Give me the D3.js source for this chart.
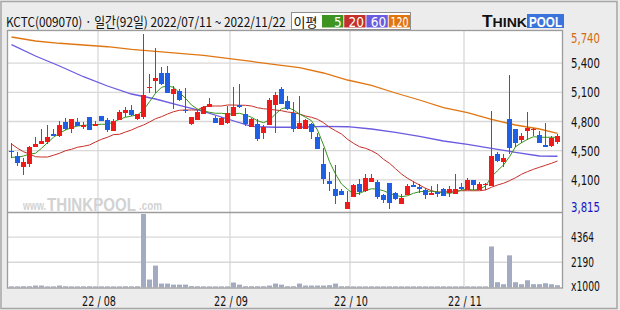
<!DOCTYPE html>
<html>
<head>
<meta charset="utf-8">
<script src="https://cdn.jsdelivr.net/npm/d3@7"></script>
<style>
html, body { margin: 0; padding: 0; background: #ececec; }
svg { display: block; }
.num { font-family: "Liberation Sans Narrow", "DejaVu Sans Condensed", "Liberation Sans", sans-serif; }
</style>
</head>
<body>
<svg id="chart" width="620" height="310"></svg>
<script>
// trading days 2022/07/11 ~ 2022/11/22 (92)
const dates = [
  "22/07/11","22/07/12","22/07/13","22/07/14","22/07/15","22/07/18","22/07/19","22/07/20","22/07/21","22/07/22",
  "22/07/25","22/07/26","22/07/27","22/07/28","22/07/29",
  "22/08/01","22/08/02","22/08/03","22/08/04","22/08/05","22/08/08","22/08/09","22/08/10","22/08/11","22/08/12",
  "22/08/16","22/08/17","22/08/18","22/08/19","22/08/22","22/08/23","22/08/24","22/08/25","22/08/26","22/08/29",
  "22/08/30","22/08/31",
  "22/09/01","22/09/02","22/09/05","22/09/06","22/09/07","22/09/08","22/09/13","22/09/14","22/09/15","22/09/16",
  "22/09/19","22/09/20","22/09/21","22/09/22","22/09/23","22/09/26","22/09/27","22/09/28","22/09/29","22/09/30",
  "22/10/04","22/10/05","22/10/06","22/10/07","22/10/11","22/10/12","22/10/13","22/10/14","22/10/17","22/10/18",
  "22/10/19","22/10/20","22/10/21","22/10/24","22/10/25","22/10/26","22/10/27","22/10/28","22/10/31",
  "22/11/01","22/11/02","22/11/03","22/11/04","22/11/07","22/11/08","22/11/09","22/11/10","22/11/11","22/11/14",
  "22/11/15","22/11/16","22/11/17","22/11/18","22/11/21","22/11/22"
];

const opens = [
  4455,4400,4275,4310,4495,4535,4545,4640,4620,4770, 4695,4770,4715,4825,4730,4835,4795,4675,4795,4875,
  4905,4800,4830,5140,5225,5310,5310,5075,5115,4905, 4750,4800,4855,4940,4815,4745,4755,4840,4955,4855,
  4720,4750,4645,4740,4960,5135,5005,4870,4695,4700, 4750,4610,4305,4125,4035,4010,3815,3950,4090,4010,
  4110,4110,3965,4100,3990,3875,3970,4080,4060,4025, 3975,4000,4040,3990,3975,4060,4025,4135,4025,4075,
  4075,4420,4335,4800,4695,4575,4675,4675,4625,4520, 4510,4550
];
const highs = [
  4540,4445,4375,4510,4605,4690,4735,4690,4785,4820, 4810,4815,4770,4830,4780,4840,4815,4805,4905,4935,
  4955,4865,5740,5305,5585,5375,5390,5170,5130,5145, 4825,4905,4950,5035,4840,4825,4950,5155,5190,4925,
  4815,4800,4740,5035,5100,5155,5060,4995,5060,4800, 4760,4655,4485,4220,4300,4030,4015,4090,4145,4200,
  4200,4135,3980,4105,4000,3980,4090,4125,4090,4045, 4070,4090,4045,4070,4200,4105,4155,4135,4115,4105,
  4895,4440,4420,5290,4695,4650,4880,4705,4675,4760, 4615,4640
];
const lows = [
  4375,4290,4190,4275,4495,4535,4535,4620,4610,4685, 4650,4725,4700,4685,4730,4785,4665,4675,4795,4825,
  4840,4795,4800,5090,5095,5180,5095,4915,5005,4870, 4740,4800,4855,4935,4760,4740,4755,4840,4930,4730,
  4715,4565,4590,4740,4650,4975,4905,4665,4695,4700, 4590,4480,4095,4015,3865,3970,3815,3950,3970,4005,
  4110,3920,3880,3815,3915,3875,3970,4055,3990,3920, 3975,3950,3960,3945,3975,4025,4025,4025,4025,4025,
  4075,4330,4275,4420,4500,4540,4575,4620,4540,4500, 4500,4530
];
const closes = [
  4440,4320,4330,4495,4530,4565,4605,4620,4740,4695, 4800,4730,4740,4685,4750,4785,4690,4780,4885,4905,
  4850,4860,5070,5155,5255,5190,5095,5130,5015,4895, 4825,4885,4935,4970,4760,4820,4870,4935,4930,4740,
  4805,4590,4715,5015,5070,4975,4915,4695,4760,4795, 4660,4480,4135,4095,3960,3970,3890,4080,4005,4155,
  4155,3950,3905,3880,3920,3940,4070,4055,4040,3965, 3995,3980,3965,4035,4035,4035,4135,4075,4090,4090,
  4400,4345,4375,4485,4540,4620,4705,4690,4540,4500, 4595,4620
];
// volume, x1000 shares
const volumes = [
  100,100,110,110,170,170,100,100,170,110, 100,100,100,110,100,100,100,100,100,110,
  100,110,6380,690,1900,340,340,250,250,250, 120,110,100,100,100,100,100,430,250,110,
  110,110,110,170,340,250,110,110,340,170, 170,170,170,200,340,110,110,100,100,100,
  100,100,100,100,100,100,100,100,100,100, 100,100,100,100,100,100,100,100,100,100,
  3560,460,285,2790,460,285,630,285,285,370, 285,200
];

const ma5 = [
  4384,4384,4398,4420,4428,4483,4544,4604,4648,4684, 4709,4728,4736,4739,4743,4747,4747,4772,4802,4824,
  4838,4849,4904,4995,5088,5154,5168,5154,5094,5033, 4959,4915,4893,4879,4868,4868,4860,4860,4868,4849,
  4824,4786,4764,4794,4860,4918,4934,4904,4860,4824, 4786,4684,4519,4335,4200,4090,4032,3980,3988,4016,
  4038,4032,4016,3988,3966,3950,3961,3988,4005,4010, 4010,4002,3994,3988,3999,4024,4032,4024,4032,4068,
  4170,4236,4299,4390,4500,4544,4582,4610,4604,4604, 4604,4604
];
const ma20 = [
  4530,4483,4445,4420,4390,4387,4387,4406,4428,4456, 4472,4494,4505,4519,4552,4582,4604,4633,4637,4662,
  4684,4714,4739,4772,4808,4830,4860,4885,4901,4904, 4904,4904,4940,4948,4948,4948,4959,4959,4956,4956,
  4948,4929,4918,4912,4904,4896,4882,4874,4860,4838, 4824,4802,4764,4714,4676,4640,4582,4538,4500,4483,
  4456,4420,4362,4318,4258,4200,4153,4115,4079,4043, 4016,4002,4002,4008,4013,4016,4016,4016,4016,4024,
  4054,4079,4098,4126,4159,4197,4226,4252,4274,4296, 4318,4343
];
// long averages read every 4th day
const maIdx = [0,4,8,12,16,20,24,28,32,36,40,44,48,52,56,60,64,68,72,76,80,84,88,91];
const ma60 = [5624,5498,5388,5270,5168,5080,5025,4954,4888,4805,4723,4714,4714,4723,4720,4695,4657,4613,4563,4527,4483,4439,4398,4395];
const ma120 = [5707,5663,5638,5619,5600,5570,5548,5526,5506,5472,5438,5403,5370,5311,5234,5174,5091,5014,4931,4874,4800,4739,4695,4648];

const priceMin = 3815, priceMax = 5740;
const priceLabels = ["5,740","5,400","5,100","4,800","4,500","4,100","3,815"];
const volMax = 6550;
const volTicks = [4364, 2190, 0];
const volLabels = ["4364","2190","x1000"];
const maNames = ["5","20","60","120"];
const maColors = ["#3d9420","#c4302b","#6a5be0","#e07612"];

const upColor = "#ef1b1b", downColor = "#1f5fe3", volColor = "#a3abc2", gridColor = "#d8d8d8";

const plotLeft = 8, plotRight = 562, plotTop = 31, priceBottom = 212, volBottom = 288;

const svg = d3.select("#chart");

// squeeze a text horizontally into a width, keeping its glyph height
function fitText(sel, width, size) {
    sel.style("font-size", size + "px");
    const len = sel.node().getComputedTextLength();
    if (len > width) {
        const tx = +sel.attr("x"), ty = +sel.attr("y");
        sel.attr("x", 0).attr("y", 0)
            .attr("transform", `translate(${tx},${ty}) scale(${width / len},1)`);
    }
    return sel;
}

// outer frame
svg.append("rect")
    .attr("x", 1).attr("y", 1.5).attr("width", 616).attr("height", 307)
    .attr("fill", "#ececec").attr("stroke", "#a6a6a6").attr("stroke-width", 1.5);

// plot background
svg.append("rect")
    .attr("x", plotLeft).attr("y", plotTop).attr("width", plotRight - plotLeft).attr("height", volBottom - plotTop)
    .attr("fill", "#fff");

// Scales
const x = d3.scaleBand()
    .domain(dates)
    .range([plotLeft, plotLeft + dates.length * 6])
    .padding(0);

const y = d3.scaleLinear().domain([priceMin, priceMax]).range([209, 34]);
const yv = d3.scaleLinear().domain([0, volMax]).range([287.5, 212]);

// watermark
const wm = svg.append("g").attr("fill", "#d2d2d2").attr("font-family", "Liberation Sans, sans-serif").attr("font-weight", "bold");
fitText(wm.append("text").attr("x", 23).attr("y", 210).text("www."), 23, 13);
fitText(wm.append("text").attr("x", 47).attr("y", 210.5).text("THINKPOOL"), 89, 19);
fitText(wm.append("text").attr("x", 139).attr("y", 210).text(".com"), 23, 13);

// horizontal grid, price panel: six equal divisions
const priceTicks = d3.range(priceLabels.length).map(k => priceMax - k * (priceMax - priceMin) / (priceLabels.length - 1));
svg.append("g")
    .selectAll("line")
    .data(priceTicks.slice(1, -1))
    .join("line")
    .attr("x1", plotLeft).attr("x2", plotRight)
    .attr("y1", d => y(d)).attr("y2", d => y(d))
    .attr("stroke", gridColor).attr("stroke-width", 1.3);

// volume grid
svg.append("g")
    .selectAll("line")
    .data(volTicks.filter(v => v > 0))
    .join("line")
    .attr("x1", plotLeft).attr("x2", plotRight)
    .attr("y1", d => yv(d)).attr("y2", d => yv(d))
    .attr("stroke", gridColor).attr("stroke-width", 1.3);

// month starts
const monthStarts = dates.filter((d, i) => i > 0 && d.slice(3, 5) !== dates[i - 1].slice(3, 5));
svg.append("g")
    .selectAll("line")
    .data(monthStarts)
    .join("line")
    .attr("x1", d => x(d)).attr("x2", d => x(d))
    .attr("y1", plotTop).attr("y2", volBottom)
    .attr("stroke", gridColor).attr("stroke-width", 1.3);

// volume bars
svg.append("g")
    .selectAll("rect")
    .data(dates)
    .join("rect")
    .attr("x", d => x(d) + 1)
    .attr("width", 5)
    .attr("y", (d, i) => Math.min(yv(volumes[i]), 286.5))
    .attr("height", (d, i) => Math.max(1, 287.5 - yv(volumes[i])))
    .attr("fill", volColor);

// moving averages
const line = d3.line().x(d => x(d[0]) + 3.5).y(d => y(d[1]));
const maSeries = [
    ma5.map((v, i) => [dates[i], v]),
    ma20.map((v, i) => [dates[i], v]),
    ma60.map((v, k) => [dates[maIdx[k]], v]),
    ma120.map((v, k) => [dates[maIdx[k]], v])
];
const maWidths = [1, 1, 1.3, 1.3];
svg.append("g")
    .selectAll("path")
    .data(d3.range(maSeries.length).reverse())
    .join("path")
    .attr("d", k => line(maSeries[k]))
    .attr("fill", "none")
    .attr("stroke", k => maColors[k])
    .attr("stroke-width", k => maWidths[k]);

// candles
const candles = svg.append("g")
    .selectAll("g")
    .data(dates)
    .join("g")
    .attr("fill", (d, i) => closes[i] >= opens[i] ? upColor : downColor)
    .attr("stroke", (d, i) => closes[i] >= opens[i] ? upColor : downColor);

candles.append("line")
    .attr("x1", d => x(d) + 3.5).attr("x2", d => x(d) + 3.5)
    .attr("y1", (d, i) => Math.round(y(highs[i])))
    .attr("y2", (d, i) => Math.round(y(lows[i])))
    .attr("stroke-width", 1);

candles.append("rect")
    .attr("x", d => x(d) + 1)
    .attr("width", 5)
    .attr("y", (d, i) => Math.round(y(Math.max(opens[i], closes[i]))))
    .attr("height", (d, i) => Math.max(1, Math.round(Math.abs(y(opens[i]) - y(closes[i])))))
    .attr("stroke", "none");

// frame lines
svg.append("rect")
    .attr("x", plotLeft - 0.5).attr("y", plotTop - 0.5).attr("width", plotRight - plotLeft + 1).attr("height", volBottom - plotTop + 0.5)
    .attr("fill", "none").attr("stroke", "#9c9c9c").attr("stroke-width", 1.3);
svg.append("line")
    .attr("x1", plotLeft).attr("x2", plotRight).attr("y1", priceBottom + 0.5).attr("y2", priceBottom + 0.5)
    .attr("stroke", "#9c9c9c").attr("stroke-width", 1.3);

// price labels
svg.append("g")
    .selectAll("text")
    .data(priceTicks)
    .join("text")
    .attr("class", "num")
    .attr("x", 571)
    .attr("y", d => Math.min(Math.max(y(d), 37.5), 206.5) + 5)
    .attr("fill", (d, i) => i === 0 ? "#d46a10" : i === priceTicks.length - 1 ? "#1515c8" : "#111")
    .text((d, i) => priceLabels[i])
    .each(function () { fitText(d3.select(this), 29, 14); });

// volume labels
svg.append("g")
    .selectAll("text")
    .data(volTicks)
    .join("text")
    .attr("class", "num")
    .attr("x", 571)
    .attr("y", d => Math.min(yv(d), 285.5) + 5)
    .attr("fill", "#111")
    .text((d, i) => volLabels[i])
    .each(function (d, i) { fitText(d3.select(this), volLabels[i].length === 4 ? 23 : 29, 14); });

// month labels
svg.append("g")
    .selectAll("text")
    .data(monthStarts)
    .join("text")
    .attr("class", "num")
    .attr("x", d => x(d) + 1)
    .attr("y", 306)
    .attr("text-anchor", "middle")
    .attr("fill", "#111")
    .text(d => d.slice(0, 2) + " / " + d.slice(3, 5))
    .each(function () { fitText(d3.select(this), 34, 14); });

// title
fitText(svg.append("text")
    .attr("x", 6).attr("y", 27)
    .attr("font-family", "Noto Sans CJK KR, sans-serif")
    .attr("fill", "#111")
    .text("KCTC(009070) · 일간(92일) " + "20" + dates[0] + " ~ " + "20" + dates[dates.length - 1]), 280, 13.5);

// MA legend
const lg = svg.append("g");
lg.append("rect")
    .attr("x", 291.5).attr("y", 12.5).attr("width", 119).attr("height", 17)
    .attr("fill", "#fff").attr("stroke", "#8e8e8e");
fitText(lg.append("text")
    .attr("x", 293.5).attr("y", 26.5)
    .attr("font-family", "Noto Sans CJK KR, sans-serif")
    .attr("fill", "#111").text("이평"), 25, 13);
const cellX = d3.scaleBand().domain(maNames).range([322, 410]).paddingInner(0.04);
lg.selectAll(".cell")
    .data(maNames)
    .join("rect")
    .attr("class", "cell")
    .attr("x", d => cellX(d)).attr("y", 15)
    .attr("width", cellX.bandwidth()).attr("height", 12.5)
    .attr("fill", (d, i) => maColors[i]);
lg.selectAll(".cellText")
    .data(maNames)
    .join("text")
    .attr("class", "num cellText")
    .attr("x", d => cellX(d) + cellX.bandwidth() - 1.5)
    .attr("y", 26.5)
    .attr("text-anchor", "end")
    .attr("fill", "#fff")
    .text(d => d)
    .each(function (d) { fitText(d3.select(this), 18, 13.5); });

// logo
const logo = svg.append("g");
logo.append("text")
    .attr("x", 482).attr("y", 27)
    .attr("font-family", "Liberation Sans, sans-serif").attr("font-weight", "bold")
    .attr("textLength", 45).attr("lengthAdjust", "spacingAndGlyphs")
    .attr("fill", "#111")
    .call(t => t.append("tspan").attr("font-size", 16).text("T"))
    .call(t => t.append("tspan").attr("font-size", 13).text("HINK"));
logo.append("rect")
    .attr("x", 527).attr("y", 14).attr("width", 37).attr("height", 14)
    .attr("fill", "#3b73dc");
logo.append("text")
    .attr("x", 529).attr("y", 26.5)
    .attr("font-family", "Liberation Sans, sans-serif").attr("font-weight", "bold")
    .attr("font-size", 14)
    .attr("textLength", 33).attr("lengthAdjust", "spacingAndGlyphs")
    .attr("fill", "#fff")
    .text("POOL");
</script>
</body>
</html>
